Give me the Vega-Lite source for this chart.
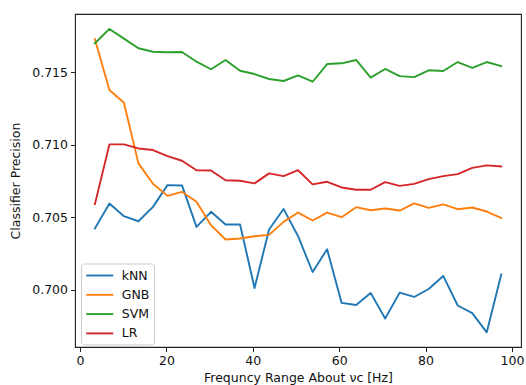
{
  "$schema": "https://vega.github.io/schema/vega-lite/v6.json",
  "width": 446,
  "height": 333,
  "autosize": {"type": "none"},
  "padding": {"left": 75, "top": 14, "right": 5, "bottom": 38},
  "background": "white",
  "config": {
    "font": "DejaVu Sans",
    "view": {"stroke": "#222222", "strokeWidth": 1.1},
    "axis": {
      "domain": false,
      "grid": false,
      "tickColor": "#222222",
      "tickSize": 4.5,
      "tickWidth": 1,
      "labelFont": "DejaVu Sans",
      "labelFontSize": 12.5,
      "labelColor": "#111111",
      "labelPadding": 3,
      "titleFont": "DejaVu Sans",
      "titleFontSize": 12.5,
      "titleFontWeight": "normal",
      "titleColor": "#111111"
    },
    "legend": {
      "labelFont": "DejaVu Sans",
      "labelFontSize": 12.5,
      "labelColor": "#111111"
    }
  },
  "data": {
    "values": [
      {"f": 3.45, "kNN": 0.70421, "GNB": 0.71726, "SVM": 0.71698, "LR": 0.70589},
      {"f": 6.81, "kNN": 0.70594, "GNB": 0.71376, "SVM": 0.71797, "LR": 0.71001},
      {"f": 10.17, "kNN": 0.70506, "GNB": 0.71288, "SVM": 0.7173, "LR": 0.71001},
      {"f": 13.53, "kNN": 0.70471, "GNB": 0.7087, "SVM": 0.71664, "LR": 0.70973},
      {"f": 16.89, "kNN": 0.7057, "GNB": 0.7073, "SVM": 0.7164, "LR": 0.70962},
      {"f": 20.25, "kNN": 0.7072, "GNB": 0.70646, "SVM": 0.71636, "LR": 0.7092},
      {"f": 23.61, "kNN": 0.70718, "GNB": 0.70674, "SVM": 0.71638, "LR": 0.70888},
      {"f": 26.97, "kNN": 0.70432, "GNB": 0.70605, "SVM": 0.71571, "LR": 0.70823},
      {"f": 30.33, "kNN": 0.70536, "GNB": 0.70444, "SVM": 0.71519, "LR": 0.70821},
      {"f": 33.69, "kNN": 0.70449, "GNB": 0.70345, "SVM": 0.71583, "LR": 0.70754},
      {"f": 37.05, "kNN": 0.70449, "GNB": 0.70352, "SVM": 0.71509, "LR": 0.7075},
      {"f": 40.41, "kNN": 0.70011, "GNB": 0.70368, "SVM": 0.71486, "LR": 0.70732},
      {"f": 43.77, "kNN": 0.70414, "GNB": 0.70377, "SVM": 0.71452, "LR": 0.70801},
      {"f": 47.13, "kNN": 0.70556, "GNB": 0.70467, "SVM": 0.71438, "LR": 0.70782},
      {"f": 50.49, "kNN": 0.70368, "GNB": 0.70531, "SVM": 0.71477, "LR": 0.70823},
      {"f": 53.85, "kNN": 0.70121, "GNB": 0.70476, "SVM": 0.71433, "LR": 0.70725},
      {"f": 57.21, "kNN": 0.70278, "GNB": 0.70531, "SVM": 0.71555, "LR": 0.70743},
      {"f": 60.57, "kNN": 0.69908, "GNB": 0.70499, "SVM": 0.7156, "LR": 0.70704},
      {"f": 63.93, "kNN": 0.69894, "GNB": 0.70568, "SVM": 0.71583, "LR": 0.70688},
      {"f": 67.29, "kNN": 0.69977, "GNB": 0.70547, "SVM": 0.71461, "LR": 0.70688},
      {"f": 70.65, "kNN": 0.698, "GNB": 0.70559, "SVM": 0.71521, "LR": 0.70741},
      {"f": 74.01, "kNN": 0.69979, "GNB": 0.70545, "SVM": 0.71472, "LR": 0.70715},
      {"f": 77.37, "kNN": 0.69949, "GNB": 0.70594, "SVM": 0.71465, "LR": 0.70729},
      {"f": 80.73, "kNN": 0.70004, "GNB": 0.70563, "SVM": 0.71512, "LR": 0.70761},
      {"f": 84.09, "kNN": 0.70094, "GNB": 0.70587, "SVM": 0.71507, "LR": 0.70782},
      {"f": 87.45, "kNN": 0.6989, "GNB": 0.70554, "SVM": 0.71569, "LR": 0.70796},
      {"f": 90.81, "kNN": 0.69838, "GNB": 0.70566, "SVM": 0.71528, "LR": 0.70839},
      {"f": 94.17, "kNN": 0.69705, "GNB": 0.70538, "SVM": 0.71569, "LR": 0.70856},
      {"f": 97.53, "kNN": 0.70104, "GNB": 0.70494, "SVM": 0.71541, "LR": 0.70849}
    ]
  },
  "transform": [{"fold": ["kNN", "GNB", "SVM", "LR"], "as": ["model", "precision"]}],
  "mark": {"type": "line", "strokeWidth": 1.9, "strokeJoin": "round", "strokeCap": "square"},
  "encoding": {
    "x": {
      "field": "f",
      "type": "quantitative",
      "scale": {"domain": [-1.16, 102.1], "nice": false, "zero": false},
      "axis": {"values": [0, 20, 40, 60, 80, 100], "title": "Frequncy Range About νc [Hz]", "titlePadding": 4}
    },
    "y": {
      "field": "precision",
      "type": "quantitative",
      "scale": {"domain": [0.69604, 0.719], "nice": false, "zero": false},
      "axis": {"values": [0.7, 0.705, 0.71, 0.715], "format": ".3f", "title": "Classifier Precision", "titlePadding": 9}
    },
    "color": {
      "field": "model",
      "type": "nominal",
      "sort": ["kNN", "GNB", "SVM", "LR"],
      "scale": {"domain": ["kNN", "GNB", "SVM", "LR"], "range": ["#1f77b4", "#ff7f0e", "#2ca02c", "#d62728"]},
      "legend": {
        "title": null,
        "orient": "none",
        "legendX": 6,
        "legendY": 249.5,
        "padding": 4,
        "strokeColor": "#cccccc",
        "fillColor": "rgba(255,255,255,0.8)",
        "cornerRadius": 3,
        "symbolType": "M-2,0H2",
        "symbolSize": 182,
        "symbolOffset": 6.75,
        "symbolStrokeWidth": 1.9,
        "labelOffset": 14,
        "rowPadding": 4.3
      }
    }
  }
}
